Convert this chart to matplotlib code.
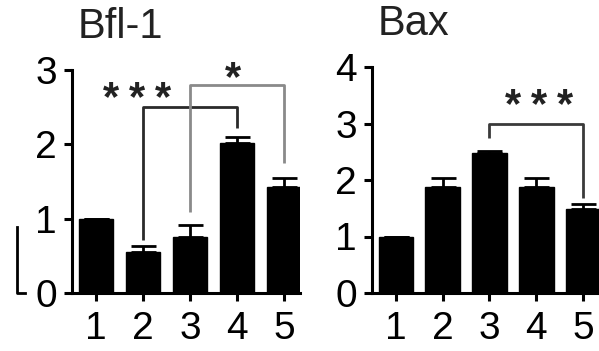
import matplotlib
matplotlib.use("Agg")
import matplotlib.pyplot as plt
from matplotlib.lines import Line2D

plt.rcParams['font.family'] = ['Liberation Sans', 'DejaVu Sans']

groups = [1, 2, 3, 4, 5]

bfl1_mean = [1.0, 0.55, 0.75, 2.02, 1.43]
bfl1_err = [0.0, 0.08, 0.17, 0.08, 0.12]

bax_mean = [1.0, 1.88, 2.48, 1.88, 1.48]
bax_err = [0.0, 0.15, 0.03, 0.15, 0.1]

# significance brackets:
# (left group, right group, bar height, left leg end, right leg end,
#  label, line colour, label centre x, label offset above bar in points)
bfl1_sig = [
    (2, 4, 2.5, 0.71, 2.22, '***', '#2a2a2a', 1.87, 15),
    (3, 5, 2.8, 1.09, 1.75, '*', '#8a8a8a', 3.91, 13),
]
bax_sig = [
    (3, 5, 3.0, 2.74, 1.68, '***', '#3a3a3a', 4.06, 22),
]

W, H = 599, 351
fig = plt.figure(figsize=(W / 100, H / 100), dpi=100)

STAR_SIZE = 30
STAR_STEP = 18.5  # points between neighbouring asterisks


def panel(rect, title, means, errs, sig, ymax):
    ax = fig.add_axes(rect)
    ax.bar(groups, means, width=0.74, color='black', edgecolor='black', zorder=2)
    ax.errorbar(groups, means, yerr=[[0] * len(errs), errs], fmt='none',
                ecolor='black', elinewidth=2, capsize=9, capthick=2, zorder=3)
    for g1, g2, h, l1, l2, lab, col, cx, up in sig:
        ax.plot([g1, g1, g2, g2], [l1, h, h, l2], color=col, lw=2,
                solid_capstyle='butt', clip_on=False, zorder=1)
        n = len(lab)
        for k in range(n):
            dx = (k - (n - 1) / 2) * STAR_STEP
            # asterisk ink sits ~0.57 em above the baseline
            ax.annotate('*', xy=(cx, h), xytext=(dx, up - 0.57 * STAR_SIZE),
                        textcoords='offset points', ha='center', va='baseline',
                        fontsize=STAR_SIZE, fontweight='bold', color='#222222',
                        annotation_clip=False)
    ax.set_xlim(0.49, 5.34)
    ax.set_ylim(0, ymax)
    ax.set_xticks(groups)
    ax.set_xticklabels([str(g) for g in groups])
    ax.set_yticks(range(0, ymax + 1))
    for s in ('top', 'right'):
        ax.spines[s].set_visible(False)
    for s in ('left', 'bottom'):
        ax.spines[s].set_linewidth(2.2)
    ax.tick_params(axis='both', direction='out', length=6, width=2.2,
                   labelsize=28, color='black')
    ax.tick_params(axis='x', pad=7)
    ax.tick_params(axis='y', pad=5)
    ax.text(0.025, 1.0 + 23 / (rect[3] * H), title, transform=ax.transAxes,
            ha='left', va='bottom', fontsize=30, color='#222222')
    return ax


# left panel: axes from x=72..300 px, y=70..293 px
panel([72 / W, (H - 293) / H, (300 - 72) / W, (293 - 70) / H],
      'Bfl-1', bfl1_mean, bfl1_err, bfl1_sig, 3)
# right panel: axes from x=372..599 px, y=67..293 px
panel([372 / W, (H - 293) / H, (599 - 372) / W, (293 - 67) / H],
      'Bax', bax_mean, bax_err, bax_sig, 4)

# edge of a neighbouring panel's axis at the far left
fig.add_artist(Line2D([17 / W, 17 / W, 25 / W],
                      [(H - 227) / H, (H - 293) / H, (H - 293) / H],
                      color='black', lw=2, transform=fig.transFigure))

fig.savefig('out.png', dpi=100)
